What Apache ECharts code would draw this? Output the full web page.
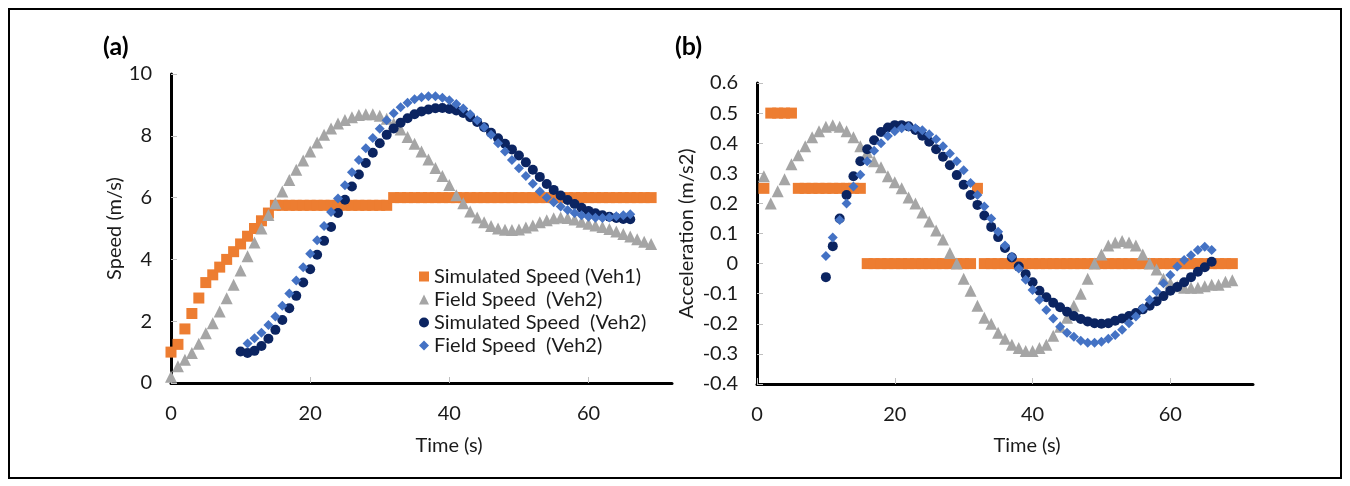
<!DOCTYPE html>
<html>
<head>
<meta charset="utf-8">
<script src="https://cdn.jsdelivr.net/npm/echarts@6/dist/echarts.min.js"></script>
<style>
html,body{margin:0;padding:0;background:#fff;}
#main{width:1350px;height:486px;}
</style>
</head>
<body>
<div id="main"></div>
<script>
// speed (m/s), one value per second, first value at the start time
var simSpeedV1Start = 0;
var simSpeedV1 = [1.0,1.25,1.75,2.25,2.75,3.25,3.5,3.75,4.0,4.25,
    4.5,4.75,5.0,5.25,5.5,5.75,5.75,5.75,5.75,5.75,
    5.75,5.75,5.75,5.75,5.75,5.75,5.75,5.75,5.75,5.75,
    5.75,5.75,6,6,6,6,6,6,6,6,
    6,6,6,6,6,6,6,6,6,6,
    6,6,6,6,6,6,6,6,6,6,
    6,6,6,6,6,6,6,6,6,6];
var fieldSpeedGrayStart = 0;
var fieldSpeedGray = [0.2,0.54,0.75,0.97,1.27,1.61,1.93,2.31,2.74,3.18,
    3.64,4.1,4.55,5.0,5.44,5.82,6.2,6.57,6.9,7.2,
    7.49,7.78,8.03,8.24,8.4,8.51,8.6,8.67,8.7,8.7,
    8.65,8.55,8.4,8.2,7.96,7.74,7.49,7.23,6.96,6.7,
    6.41,6.08,5.82,5.55,5.36,5.2,5.08,5.0,4.96,4.95,
    4.97,5.03,5.1,5.2,5.27,5.33,5.36,5.34,5.29,5.22,
    5.15,5.1,5.05,4.98,4.9,4.82,4.74,4.65,4.57,4.5];
var simSpeedV2Start = 10;
var simSpeedV2 = [1.02,0.97,1.04,1.2,1.43,1.72,2.04,2.42,2.82,3.25,
    3.68,4.15,4.6,5.05,5.5,5.93,6.36,6.75,7.12,7.45,
    7.76,8.03,8.24,8.42,8.57,8.7,8.79,8.85,8.89,8.9,
    8.87,8.82,8.74,8.6,8.45,8.28,8.1,7.92,7.74,7.56,
    7.36,7.14,6.9,6.67,6.44,6.25,6.07,5.92,5.79,5.67,
    5.57,5.49,5.43,5.38,5.34,5.31,5.3];
var fieldSpeedV2Start = 11;
var fieldSpeedV2 = [1.28,1.45,1.63,1.88,2.15,2.5,2.9,3.32,3.75,
    4.18,4.62,5.08,5.53,5.97,6.4,6.82,7.22,7.6,7.93,
    8.23,8.5,8.73,8.92,9.07,9.18,9.25,9.28,9.28,9.23,
    9.15,9.03,8.88,8.7,8.5,8.28,8.03,7.76,7.49,7.22,
    6.95,6.7,6.45,6.2,6.0,5.85,5.71,5.6,5.5,5.43,
    5.38,5.35,5.34,5.36,5.4,5.43,5.46];

// acceleration (m/s2)
var simAccV1Start = 1;
var simAccV1 = [0.25,0.5,0.5,0.5,0.5,0.25,0.25,0.25,0.25,0.25,
    0.25,0.25,0.25,0.25,0.25,0,0,0,0,0,
    0,0,0,0,0,0,0,0,0,0,
    0,0.25,0,0,0,0,0,0,0,0,
    0,0,0,0,0,0,0,0,0,0,
    0,0,0,0,0,0,0,0,0,0,
    0,0,0,0,0,0,0,0,0];
var fieldAccGrayStart = 1;
var fieldAccGray = [0.29,0.2,0.24,0.28,0.33,0.36,0.39,0.42,0.44,
    0.455,0.46,0.455,0.44,0.42,0.39,0.37,0.34,0.32,0.29,
    0.27,0.25,0.22,0.2,0.17,0.14,0.11,0.08,0.035,0.0,
    -0.05,-0.09,-0.14,-0.18,-0.2,-0.23,-0.25,-0.27,-0.28,-0.29,
    -0.29,-0.28,-0.27,-0.24,-0.21,-0.18,-0.14,-0.1,-0.05,0.0,
    0.03,0.06,0.07,0.075,0.07,0.06,0.03,0.0,-0.02,-0.05,
    -0.065,-0.075,-0.08,-0.08,-0.08,-0.075,-0.07,-0.07,-0.06,-0.055];
var simAccV2Start = 10;
var simAccV2 = [-0.045,0.058,0.15,0.228,0.29,0.34,0.38,0.41,0.437,0.452,
    0.46,0.46,0.456,0.444,0.425,0.405,0.38,0.355,0.327,0.294,
    0.262,0.228,0.195,0.16,0.122,0.088,0.052,0.02,-0.01,-0.035,
    -0.062,-0.09,-0.112,-0.13,-0.145,-0.16,-0.174,-0.184,-0.192,-0.198,
    -0.2,-0.198,-0.19,-0.182,-0.174,-0.164,-0.152,-0.14,-0.125,-0.108,
    -0.09,-0.078,-0.062,-0.045,-0.027,-0.012,0.006];
var fieldAccV2Start = 10;
var fieldAccV2 = [0.025,0.087,0.145,0.2,0.256,0.295,0.34,0.375,0.4,0.424,
    0.44,0.45,0.455,0.45,0.443,0.43,0.413,0.39,0.366,0.34,
    0.31,0.268,0.228,0.19,0.15,0.106,0.06,0.023,-0.016,-0.054,
    -0.088,-0.12,-0.154,-0.182,-0.21,-0.23,-0.243,-0.256,-0.263,-0.263,
    -0.26,-0.25,-0.237,-0.22,-0.198,-0.176,-0.148,-0.12,-0.093,-0.065,
    -0.038,-0.01,0.012,0.028,0.045,0.056,0.045];

var timeTicks = [0, 20, 40, 60];
var seriesNames = ['Simulated Speed (Veh1)', 'Field Speed  (Veh2)', 'Simulated Speed  (Veh2)', 'Field Speed  (Veh2) '];

var FONT = 'Lato';
var FS = 20;
var TXT = '#1a1a1a';
var colOrange = '#ED7D31', colGray = '#A5A5A5', colNavy = '#0B2461', colBlue = '#4472C4';

function pairs(start, vals) {
    return vals.map(function (v, i) { return [start + i, v]; });
}

function xAx(idx, gap, shift) {
    return {
        gridIndex: idx, type: 'value', min: 0, max: 72, interval: 20,
        axisLine: {show: true, onZero: false, lineStyle: {color: '#000', width: 3}},
        axisTick: {show: true, inside: true, length: 6, customValues: timeTicks, lineStyle: {color: '#bfbfbf'}},
        axisLabel: {customValues: timeTicks, margin: 21, fontSize: FS, color: TXT, fontFamily: FONT},
        splitLine: {show: false},
        name: 'Time (s)', nameLocation: 'middle', nameGap: gap,
        nameTextStyle: {fontSize: FS, color: TXT, fontFamily: FONT, padding: [0, 0, 0, shift]}
    };
}

function yAx(idx, min, max, step, name, gap, fmt) {
    return {
        gridIndex: idx, type: 'value', min: min, max: max, interval: step,
        axisLine: {show: true, onZero: false, lineStyle: {color: '#000', width: 3}},
        axisTick: {show: true, inside: true, length: 6, lineStyle: {color: '#bfbfbf'}},
        axisLabel: {margin: 19, fontSize: FS, color: TXT, fontFamily: FONT, formatter: fmt},
        splitLine: {show: false},
        name: name, nameLocation: 'middle', nameGap: gap,
        nameTextStyle: {fontSize: FS, color: TXT, fontFamily: FONT}
    };
}

function sc(name, idx, data, symbol, size, color) {
    return {
        name: name, type: 'scatter', xAxisIndex: idx, yAxisIndex: idx,
        data: data, symbol: symbol, symbolSize: size,
        itemStyle: {color: color, opacity: 1}
    };
}

var myChart = echarts.init(document.getElementById('main'));
var option = {
    animation: false,
    backgroundColor: '#fff',
    title: [
        {text: '(a)', left: 103, top: 34, padding: 0, textStyle: {fontSize: 25, fontWeight: 'bold', color: '#000', fontFamily: FONT}},
        {text: '(b)', left: 675, top: 34, padding: 0, textStyle: {fontSize: 25, fontWeight: 'bold', color: '#000', fontFamily: FONT}}
    ],
    graphic: [{
        type: 'rect', silent: true,
        shape: {x: 9, y: 9, width: 1332, height: 469},
        style: {fill: null, stroke: '#000', lineWidth: 2}
    }],
    legend: {
        orient: 'vertical', left: 414, top: 261,
        itemWidth: 10, itemHeight: 10, itemGap: 2,
        selectedMode: false,
        textStyle: {fontSize: FS, lineHeight: 21, color: TXT, fontFamily: FONT},
        data: seriesNames
    },
    grid: [
        {left: 171, top: 74, width: 501, height: 309, outerBoundsMode: 'none'},
        {left: 757, top: 83, width: 496, height: 301, outerBoundsMode: 'none'}
    ],
    xAxis: [xAx(0, 53, 55), xAx(1, 52, 44)],
    yAxis: [
        yAx(0, 0, 10, 2, 'Speed (m/s)', 46),
        yAx(1, -0.4, 0.6, 0.1, 'Acceleration (m/s2)', 60, function (v) { return (Math.round(v * 10) / 10).toString(); })
    ],
    series: [
        sc(seriesNames[0], 0, pairs(simSpeedV1Start, simSpeedV1), 'rect', 11, colOrange),
        sc(seriesNames[1], 0, pairs(fieldSpeedGrayStart, fieldSpeedGray), 'triangle', 12, colGray),
        sc(seriesNames[2], 0, pairs(simSpeedV2Start, simSpeedV2), 'circle', 10, colNavy),
        sc(seriesNames[3], 0, pairs(fieldSpeedV2Start, fieldSpeedV2), 'diamond', 10, colBlue),
        sc(seriesNames[0], 1, pairs(simAccV1Start, simAccV1), 'rect', 11, colOrange),
        sc(seriesNames[1], 1, pairs(fieldAccGrayStart, fieldAccGray), 'triangle', 12, colGray),
        sc(seriesNames[2], 1, pairs(simAccV2Start, simAccV2), 'circle', 10, colNavy),
        sc(seriesNames[3], 1, pairs(fieldAccV2Start, fieldAccV2), 'diamond', 10, colBlue)
    ]
};
myChart.setOption(option);
</script>
</body>
</html>
